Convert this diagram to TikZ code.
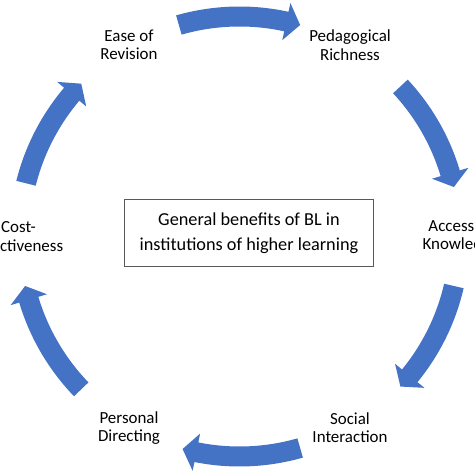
\documentclass[tikz,border=0pt]{standalone}
\usepackage{fontspec}
\setmainfont{Carlito}
\usepackage{tikz}
\usetikzlibrary{positioning}
\usepackage{xcolor}
\definecolor{cycleBlue}{HTML}{4472C4}
\definecolor{frameGray}{HTML}{595959}

\begin{document}
\begin{tikzpicture}[x=0.75pt, y=0.75pt,
  benefit/.style={align=center, font=\fontsize{12.7}{13.7}\selectfont}]
\clip (-239.5,-237.5) rectangle (234.5,236.5);
% centre box
\node[draw=frameGray, line width=0.75pt, minimum width=186pt, minimum height=50.25pt,
  align=center, font=\fontsize{13.7}{18.75}\selectfont] (bl) at (9.5,3)
  {General benefits of BL in\\institutions of higher learning};
% benefits round the circle
\foreach \ang/\name/\txt in {
  120/ease/{Ease of\\Revision}, 60/peda/{Pedagogical\\Richness},
  0/access/{Access to\\Knowledge}, -60/social/{Social\\Interaction},
  -120/personal/{Personal\\Directing}, 180/cost/{Cost-\\effectiveness}}
{
  \node[benefit] (\name) at (\ang:221) {\txt};
}
% curved block arrows, clockwise
\foreach \a/\b in {106/74, 43/13, -13/-43, -74/-105, -136/-167, 166/136}
{
  \fill[cycleBlue] (\a:230) arc[start angle=\a, end angle=\b+3.7, radius=230]
    -- (\b+3.7:239) -- (\b:220) -- (\b+3.7:201) -- (\b+3.7:210)
    arc[start angle=\b+3.7, end angle=\a, radius=210] -- cycle;
}
\end{tikzpicture}
\end{document}
